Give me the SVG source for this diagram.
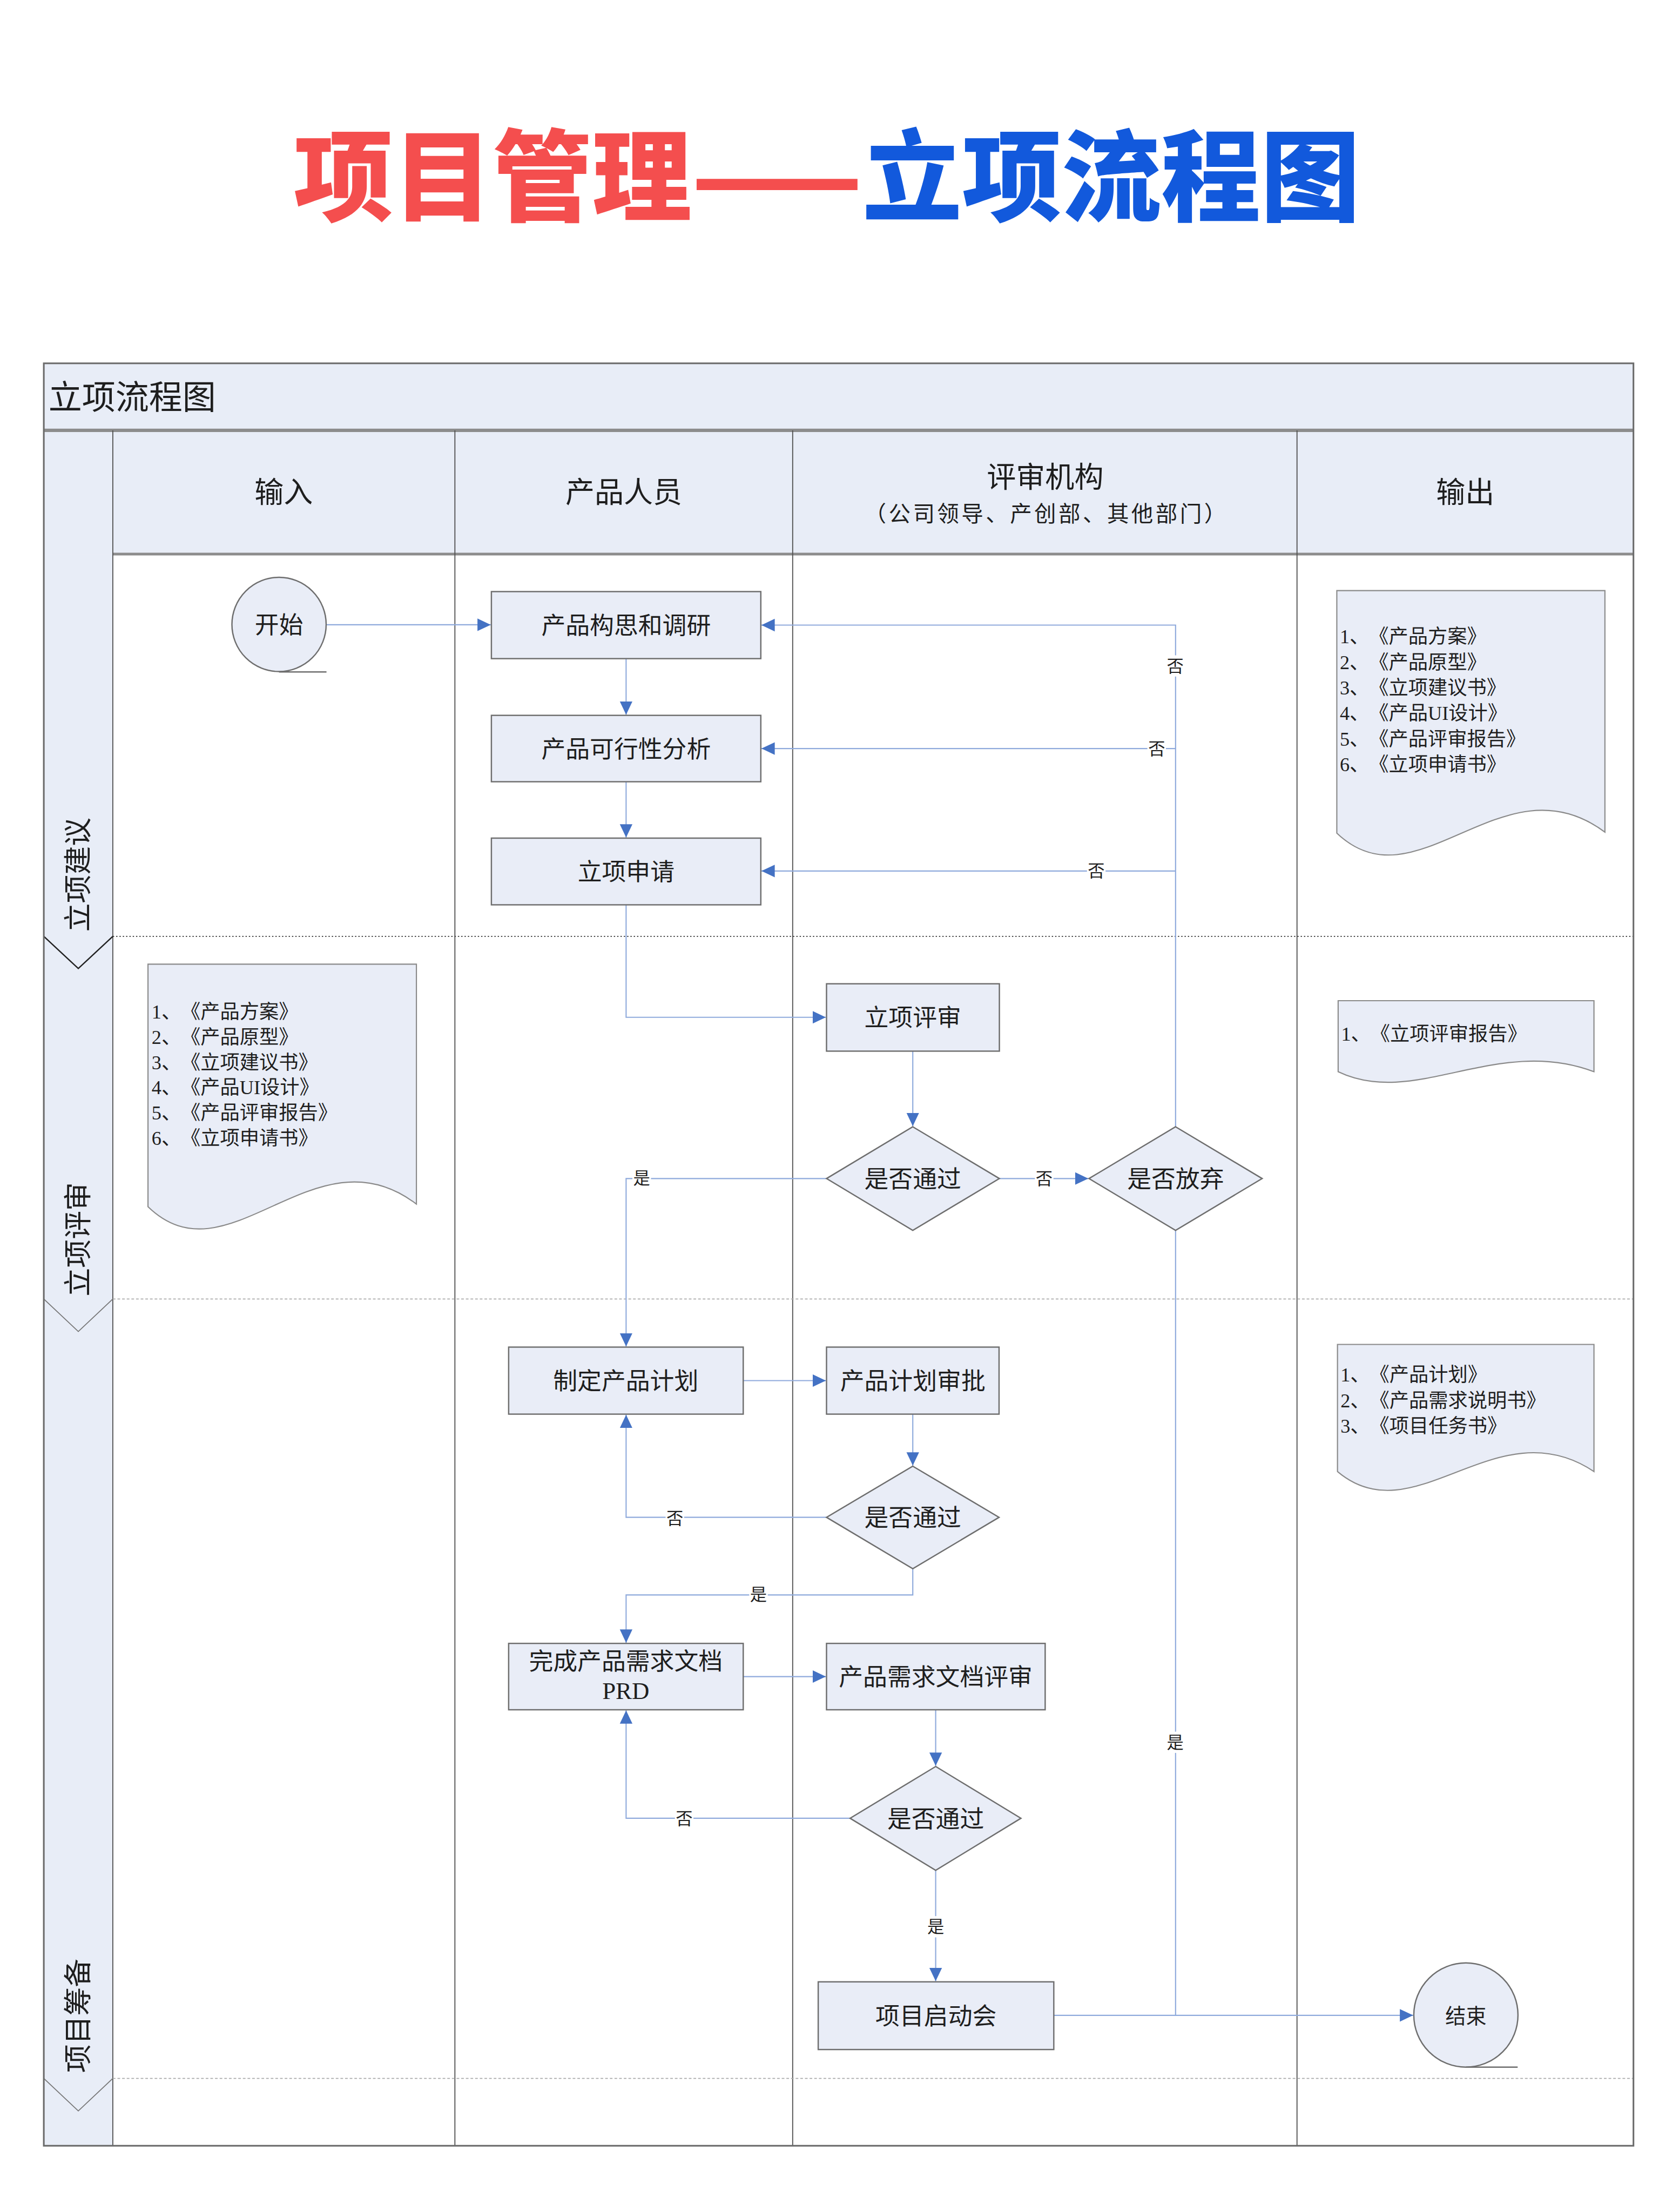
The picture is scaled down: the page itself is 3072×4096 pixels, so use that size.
<svg xmlns="http://www.w3.org/2000/svg" width="3072" height="4096" viewBox="0 0 3072 4096">
<defs>
<style>
.bg{fill:#E8EDF7}
.node{fill:#E9EDF7;stroke:#6E6E6E;stroke-width:4}
.doc{fill:#E9EDF7;stroke:#8A8A8A;stroke-width:3.5}
.t{font-family:"Liberation Serif","Noto Sans CJK SC",serif;fill:#1E1E1E;text-spacing-trim:space-all}
.c{text-anchor:middle}
.n{font-size:73px}
.s{font-size:51px}
.d{font-size:59px}
.conn{fill:none;stroke:#8FAADC;stroke-width:3.5}
.lb{fill:#FFFFFF}
.col{stroke:#505050;stroke-width:3}
</style>
<marker id="arr" markerUnits="userSpaceOnUse" markerWidth="40" markerHeight="40" viewBox="0 0 40 40" refX="40" refY="20" orient="auto">
<path d="M0,1 L40,20 L0,39 z" fill="#4472C4"/>
</marker>
</defs>
<rect x="0" y="0" width="3072" height="4096" fill="#FFFFFF"/>
<g transform="scale(0.6144)">
<g id="title">
<text x="2492" y="643" text-anchor="middle" font-family="'Noto Sans CJK SC',sans-serif" font-weight="900" font-size="300"><tspan fill="#F44E4E">项目管理——</tspan><tspan fill="#1259DC">立项流程图</tspan></text>
</g>
<g id="frame">
<rect x="132" y="1095" width="4791" height="5372" fill="#FFFFFF"/>
<rect class="bg" x="132" y="1095" width="4791" height="575"/>
<rect class="bg" x="132" y="1670" width="208" height="4797"/>
<line x1="132" y1="1297" x2="4923" y2="1297" stroke="#8C8C8C" stroke-width="10"/>
<line x1="340" y1="1670" x2="4923" y2="1670" stroke="#8C8C8C" stroke-width="8"/>
<line class="col" x1="340" y1="1297" x2="340" y2="6467"/>
<line class="col" x1="1371" y1="1297" x2="1371" y2="6467"/>
<line class="col" x1="2389" y1="1297" x2="2389" y2="6467"/>
<line class="col" x1="3909" y1="1297" x2="3909" y2="6467"/>
<line x1="340" y1="2822" x2="4923" y2="2822" stroke="#333333" stroke-width="3" stroke-dasharray="4 6"/>
<line x1="340" y1="3915" x2="4923" y2="3915" stroke="#AAAAAA" stroke-width="3" stroke-dasharray="8 6"/>
<line x1="340" y1="6264" x2="4923" y2="6264" stroke="#AAAAAA" stroke-width="3" stroke-dasharray="8 6"/>
<polyline points="132,2822 236,2919 340,2822" fill="none" stroke="#222222" stroke-width="4"/>
<polyline points="132,3915 236,4013 340,3915" fill="none" stroke="#777777" stroke-width="3"/>
<polyline points="132,6264 236,6362 340,6264" fill="none" stroke="#777777" stroke-width="3"/>
<rect x="132" y="1095" width="4791" height="5372" fill="none" stroke="#6B6B6B" stroke-width="5"/>
<text class="t" x="146" y="1233" font-size="101">立项流程图</text>
<text class="t c" x="855" y="1516" font-size="88">输入</text>
<text class="t c" x="1880" y="1516" font-size="88">产品人员</text>
<text class="t c" x="3150" y="1469" font-size="88">评审机构</text>
<text class="t c" x="3150" y="1573" font-size="66" textLength="1090" lengthAdjust="spacing">（公司领导、产创部、其他部门）</text>
<text class="t c" x="4416" y="1516" font-size="88">输出</text>
<text class="t" font-size="86" transform="translate(266,2808) rotate(-90)">立项建议</text>
<text class="t" font-size="86" transform="translate(266,3907) rotate(-90)">立项评审</text>
<text class="t" font-size="86" transform="translate(266,6247) rotate(-90)">项目筹备</text>
</g>
<g id="connectors">
<path class="conn" d="M984,1883 H1479" marker-end="url(#arr)"/>
<path class="conn" d="M1887,1985 V2154" marker-end="url(#arr)"/>
<path class="conn" d="M1887,2356 V2524" marker-end="url(#arr)"/>
<path class="conn" d="M1887,2727 V3066 H2489" marker-end="url(#arr)"/>
<path class="conn" d="M2751,3168 V3394" marker-end="url(#arr)"/>
<path class="conn" d="M3012,3552 H3280" marker-end="url(#arr)"/>
<path class="conn" d="M3543,3396 V1884 H2295" marker-end="url(#arr)"/>
<path class="conn" d="M3543,2256 H2295" marker-end="url(#arr)"/>
<path class="conn" d="M3543,2625 H2295" marker-end="url(#arr)"/>
<path class="conn" d="M2491,3552 H1887 V4058" marker-end="url(#arr)"/>
<path class="conn" d="M2240,4161 H2489" marker-end="url(#arr)"/>
<path class="conn" d="M2751,4262 V4417" marker-end="url(#arr)"/>
<path class="conn" d="M2491,4573 H1887 V4264" marker-end="url(#arr)"/>
<path class="conn" d="M2751,4728 V4807 H1887 V4951" marker-end="url(#arr)"/>
<path class="conn" d="M2240,5053 H2489" marker-end="url(#arr)"/>
<path class="conn" d="M2820,5153 V5322" marker-end="url(#arr)"/>
<path class="conn" d="M2562,5480 H1887 V5155" marker-end="url(#arr)"/>
<path class="conn" d="M2820,5637 V5971" marker-end="url(#arr)"/>
<path class="conn" d="M3543,3708 V6074"/>
<path class="conn" d="M3176,6074 H4259" stroke="#6F93D0" stroke-width="4.5" marker-end="url(#arr)"/>
<rect class="lb" x="3514" y="1975" width="56" height="64"/>
<text class="t s c" x="3542" y="2026">否</text>
<rect class="lb" x="3458" y="2224" width="56" height="64"/>
<text class="t s c" x="3486" y="2275">否</text>
<rect class="lb" x="3276" y="2593" width="56" height="64"/>
<text class="t s c" x="3304" y="2644">否</text>
<rect class="lb" x="3119" y="3520" width="56" height="64"/>
<text class="t s c" x="3147" y="3571">否</text>
<rect class="lb" x="1906" y="3518" width="56" height="64"/>
<text class="t s c" x="1934" y="3569">是</text>
<rect class="lb" x="2006" y="4543" width="56" height="64"/>
<text class="t s c" x="2034" y="4594">否</text>
<rect class="lb" x="2258" y="4773" width="56" height="64"/>
<text class="t s c" x="2286" y="4824">是</text>
<rect class="lb" x="2034" y="5448" width="56" height="64"/>
<text class="t s c" x="2062" y="5499">否</text>
<rect class="lb" x="2792" y="5775" width="56" height="64"/>
<text class="t s c" x="2820" y="5826">是</text>
<rect class="lb" x="3514" y="5219" width="56" height="64"/>
<text class="t s c" x="3542" y="5270">是</text>
</g>
<g id="start">
<circle class="node" cx="841" cy="1882" r="142"/>
<line x1="841" y1="2025" x2="984" y2="2025" stroke="#6E6E6E" stroke-width="4"/>
<text class="t n c" x="841" y="1909">开始</text>
</g>
<g id="n-research">
<rect class="node" x="1481" y="1783" width="812" height="202"/>
<text class="t n c" x="1887" y="1911">产品构思和调研</text>
</g>
<g id="n-feasibility">
<rect class="node" x="1481" y="2156" width="812" height="200"/>
<text class="t n c" x="1887" y="2283">产品可行性分析</text>
</g>
<g id="n-apply">
<rect class="node" x="1481" y="2526" width="812" height="201"/>
<text class="t n c" x="1887" y="2653">立项申请</text>
</g>
<g id="n-review">
<rect class="node" x="2491" y="2965" width="521" height="203"/>
<text class="t n c" x="2751" y="3093">立项评审</text>
</g>
<g id="d-pass1">
<polygon class="node" points="2751,3396 3012,3552 2751,3708 2491,3552"/>
<text class="t n c" x="2751" y="3579">是否通过</text>
</g>
<g id="d-abandon">
<polygon class="node" points="3543,3396 3804,3552 3543,3708 3282,3552"/>
<text class="t n c" x="3543" y="3579">是否放弃</text>
</g>
<g id="n-plan">
<rect class="node" x="1533" y="4060" width="707" height="202"/>
<text class="t n c" x="1886" y="4188">制定产品计划</text>
</g>
<g id="n-plan-approve">
<rect class="node" x="2491" y="4060" width="520" height="202"/>
<text class="t n c" x="2751" y="4188">产品计划审批</text>
</g>
<g id="d-pass2">
<polygon class="node" points="2751,4419 3011,4573 2751,4728 2491,4573"/>
<text class="t n c" x="2751" y="4600">是否通过</text>
</g>
<g id="n-prd">
<rect class="node" x="1533" y="4953" width="707" height="200"/>
<text class="t n c" x="1886" y="5033">完成产品需求文档</text>
<text class="t n c" x="1886" y="5120">PRD</text>
</g>
<g id="n-prd-review">
<rect class="node" x="2491" y="4953" width="659" height="200"/>
<text class="t n c" x="2820" y="5080">产品需求文档评审</text>
</g>
<g id="d-pass3">
<polygon class="node" points="2820,5324 3077,5480 2820,5637 2562,5480"/>
<text class="t n c" x="2820" y="5507">是否通过</text>
</g>
<g id="n-kickoff">
<rect class="node" x="2466" y="5973" width="710" height="204"/>
<text class="t n c" x="2821" y="6102">项目启动会</text>
</g>
<g id="end">
<circle class="node" cx="4418" cy="6073" r="157"/>
<line x1="4418" y1="6230" x2="4574" y2="6230" stroke="#6E6E6E" stroke-width="4"/>
<text class="t c" x="4418" y="6099" font-size="62">结束</text>
</g>
<g id="doc-out1">
<path class="doc" d="M4029,1780 H4837 V2508 C4530,2278 4271,2741 4029,2511 Z"/>
<text class="t d" x="4038" y="1939">1、《产品方案》</text>
<text class="t d" x="4038" y="2016">2、《产品原型》</text>
<text class="t d" x="4038" y="2093">3、《立项建议书》</text>
<text class="t d" x="4038" y="2170">4、《产品UI设计》</text>
<text class="t d" x="4038" y="2247">5、《产品评审报告》</text>
<text class="t d" x="4038" y="2324">6、《立项申请书》</text>
</g>
<g id="doc-in2">
<path class="doc" d="M446,2906 H1255 V3629 C948,3394 689,3872 446,3637 Z"/>
<text class="t d" x="457" y="3070">1、《产品方案》</text>
<text class="t d" x="457" y="3146">2、《产品原型》</text>
<text class="t d" x="457" y="3222">3、《立项建议书》</text>
<text class="t d" x="457" y="3298">4、《产品UI设计》</text>
<text class="t d" x="457" y="3374">5、《产品评审报告》</text>
<text class="t d" x="457" y="3450">6、《立项申请书》</text>
</g>
<g id="doc-out2">
<path class="doc" d="M4033,3016 H4804 V3230 C4511,3119 4264,3341 4033,3230 Z"/>
<text class="t d" x="4042" y="3136">1、《立项评审报告》</text>
</g>
<g id="doc-out3">
<path class="doc" d="M4031,4052 H4804 V4435 C4510,4238 4263,4632 4031,4435 Z"/>
<text class="t d" x="4040" y="4163">1、《产品计划》</text>
<text class="t d" x="4040" y="4241">2、《产品需求说明书》</text>
<text class="t d" x="4040" y="4318">3、《项目任务书》</text>
</g>
</g>
</svg>
